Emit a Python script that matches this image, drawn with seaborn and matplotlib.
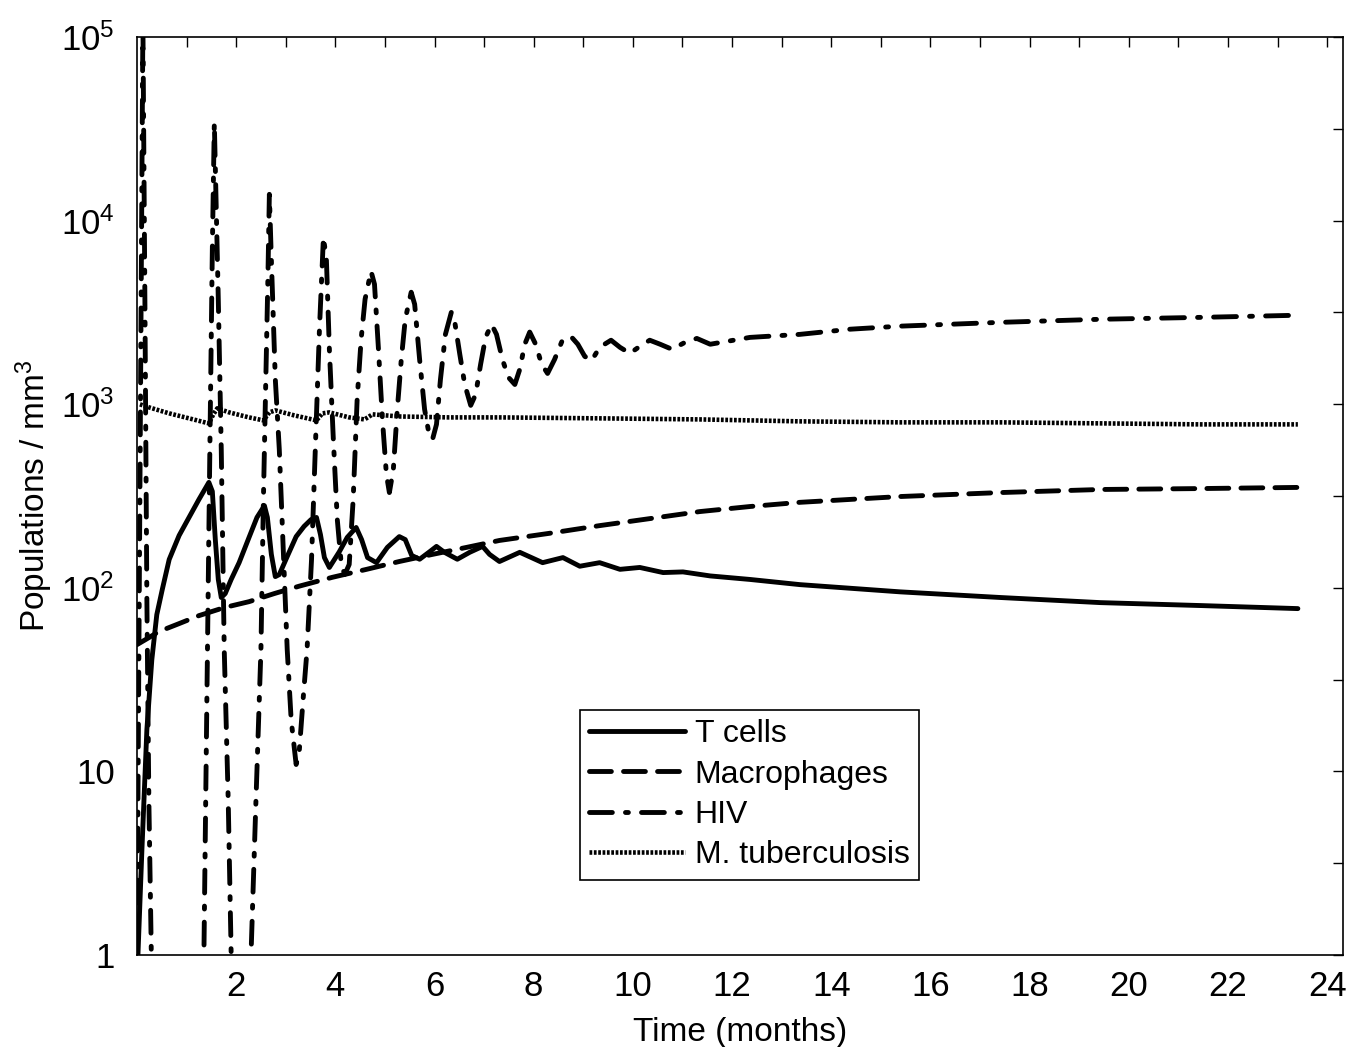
import numpy as np
import pandas as pd
import matplotlib
matplotlib.use("Agg")
import matplotlib.pyplot as plt
import seaborn as sns

# --- data (time in months, populations / mm^3) ---
hiv_time = [0.00, 0.12, 0.16, 0.20, 0.24, 0.29, 0.80,
            1.35, 1.41, 1.47, 1.52, 1.56, 1.64, 1.70, 1.76, 1.84, 1.90, 2.10,
            2.30, 2.40, 2.50, 2.55, 2.59, 2.64, 2.67,
            2.71, 2.79, 2.87, 2.95, 3.03, 3.11, 3.21,
            3.27, 3.35, 3.43, 3.52, 3.61, 3.68, 3.76,
            3.82, 3.88, 3.96, 4.04, 4.12, 4.19,
            4.28, 4.36, 4.44, 4.52, 4.60, 4.72,
            4.79, 4.87, 4.95, 5.03, 5.09,
            5.17, 5.25, 5.33, 5.41, 5.53,
            5.60, 5.70, 5.80, 5.88, 5.96,
            6.04, 6.12, 6.22, 6.34,
            6.40, 6.51, 6.61, 6.73,
            6.83, 6.93, 7.03, 7.15,
            7.25, 7.37, 7.49, 7.62,
            7.72, 7.82, 7.92,
            8.04, 8.16, 8.28,
            8.42, 8.57, 8.75,
            8.89, 9.03, 9.17,
            9.33, 9.56, 9.74, 9.94, 10.14, 10.34, 10.55, 10.79, 11.05, 11.29, 11.56,
            12.36, 13.37, 14.38, 15.39, 17.41, 19.43, 21.45, 23.41]
hiv = [1, 120000, 3730, 86, 7, 1, 0.1,
       1, 24.6, 568, 6980, 34100, 3730, 568, 46, 7, 1, 0.1,
       1, 7, 46, 303, 1060, 4790, 13900,
       6150, 1365, 568, 162, 46, 19, 10.9,
       12.6, 24.6, 46, 142, 729, 2560, 8120,
       6150, 1990, 643, 235, 134, 118,
       134, 303, 1060, 2250, 3730, 5300,
       4500, 1990, 826, 414, 330,
       441, 937, 1750, 2900, 4070,
       3500, 1750, 937, 711, 643,
       776, 1365, 2400, 3170,
       2900, 1870, 1280, 985,
       1130, 1650, 2310, 2720,
       2400, 1750, 1400, 1280,
       1550, 2120, 2470,
       2120, 1650, 1470,
       1750, 2200, 2340,
       2120, 1820, 1730,
       2040, 2230, 2040, 1890, 2065, 2230, 2120, 1990, 2170, 2280, 2120,
       2310, 2400, 2560, 2660, 2790, 2900, 2970, 3050]

tcell_time = [0.02, 0.10, 0.20, 0.30, 0.40, 0.51, 0.65, 0.85, 1.05, 1.25, 1.45,
              1.52, 1.58, 1.64, 1.70, 1.78, 1.90, 2.06, 2.26, 2.42, 2.57,
              2.63, 2.71, 2.79, 2.87, 3.03, 3.21, 3.37, 3.51, 3.62,
              3.70, 3.78, 3.88, 4.08, 4.24, 4.42,
              4.53, 4.65, 4.83, 5.05, 5.29,
              5.41, 5.54, 5.70, 5.90, 6.04,
              6.20, 6.46, 6.71, 6.97,
              7.11, 7.31, 7.72, 8.18, 8.59, 8.93, 9.33, 9.74, 10.14, 10.61, 11.01, 11.56,
              12.36, 13.37, 15.39, 17.41, 19.43, 21.45, 23.41]
tcells = [1.0, 3.74, 16.9, 40.6, 71.4, 97.7, 142.6, 192.6, 241.6, 302.8, 375,
          335, 183, 111, 88.5, 93, 111, 137, 188, 241.6, 280,
          241.6, 152, 115, 118, 148, 190, 216, 235, 241.6,
          195, 146, 129, 157, 188, 213,
          183, 146, 137, 166, 190,
          183, 150, 143, 157, 168,
          156, 143, 156, 168,
          152, 139, 156, 137, 146, 131, 137, 126, 129, 121, 122, 116,
          111, 104, 95, 88.5, 83, 80, 77]

mac_time = [0, 0.24, 0.44, 0.85, 1.25, 1.76, 2.26, 2.77, 3.27, 3.94, 4.63, 5.29, 5.96,
            6.65, 7.31, 8.32, 9.33, 10.34, 11.35, 12.36, 13.37, 15.39, 17.41, 19.43,
            21.45, 23.41]
macrophages = [49, 53.5, 57.7, 63.8, 70.5, 78, 84, 93, 102, 114, 126, 139, 152,
               166, 181, 198, 218, 238, 260, 277, 292, 314, 330, 343,
               347, 352]

mtb_time = [0.06, 0.24, 0.65, 1.05, 1.45, 1.54, 1.62, 1.86, 2.26, 2.55, 2.67, 2.79,
            3.17, 3.62, 3.74, 3.88, 4.28, 4.59, 4.75, 5.29, 6.30, 7.31, 9.33, 11.35,
            13.37, 15.39, 17.41, 19.43, 21.45, 23.41]
mtb = [998, 961, 891, 837, 786, 880, 949, 902, 847, 816, 902, 925,
       869, 816, 891, 902, 847, 826, 880, 857, 847, 847, 837, 826,
       806, 796, 796, 786, 776, 776]

x_ticks = list(range(1, 25))
x_labels = [str(v) if v % 2 == 0 else "" for v in x_ticks]
y_ticks = [1, 10, 100, 1e3, 1e4, 1e5]
y_labels = ["1", "10", r"$\mathregular{10^2}$", r"$\mathregular{10^3}$",
            r"$\mathregular{10^4}$", r"$\mathregular{10^5}$"]

sns.set_theme(style="white")
plt.rcParams["font.family"] = ["Liberation Sans", "DejaVu Sans"]
plt.rcParams["mathtext.fontset"] = "custom"
plt.rcParams["mathtext.rm"] = "Liberation Sans"
for key in ["text.color", "axes.labelcolor", "xtick.color", "ytick.color"]:
    plt.rcParams[key] = "black"

fig = plt.figure(figsize=(13.48, 10.47), dpi=100)
ax = fig.add_axes([0.1016, 0.0879, 0.8947, 0.8768])

lw = 3.5
series = [
    ("T cells", tcell_time, tcells, "-", "round", lw),
    ("Macrophages", mac_time, macrophages, (0, (4.5, 2.5)), "round", lw),
    ("HIV", hiv_time, hiv, (0, (4.7, 2.7, 0.6, 2.7)), "round", lw),
    ("M. tuberculosis", mtb_time, mtb, (0, (0.6, 0.35)), "butt", 3.3),
]
for name, tt, vv, ls, cap, width in series:
    df = pd.DataFrame({"time": tt, "value": vv})
    sns.lineplot(data=df, x="time", y="value", ax=ax, color="black",
                 linewidth=width, linestyle=ls, dash_capstyle=cap,
                 estimator=None, sort=False, label=name)

ax.set_yscale("log")
ax.set_xlim(0, 24.32)
ax.set_ylim(1, 1e5)

ax.set_xticks(x_ticks)
ax.set_xticklabels(x_labels)
ax.set_yticks(y_ticks)
ax.set_yticklabels(y_labels)
ax.set_yticks(10 ** np.arange(0.5, 5, 1), minor=True)
ax.yaxis.set_minor_formatter(matplotlib.ticker.NullFormatter())
ax.xaxis.set_minor_locator(matplotlib.ticker.NullLocator())

ax.tick_params(axis="both", which="both", direction="in", length=7, width=1,
               top=True, right=True, color="black", labelcolor="black",
               labelsize=25)
ax.tick_params(axis="y", pad=16)
ax.tick_params(axis="x", pad=11)
for sp in ax.spines.values():
    sp.set_color("black")
    sp.set_linewidth(1.2)

ax.set_xlabel("Time (months)", fontsize=24, labelpad=10, color="black")
ax.set_ylabel(r"Populations / mm$\mathregular{^3}$", fontsize=24, labelpad=4,
              color="black")

leg = ax.legend(loc="upper left", bbox_to_anchor=(0.367, 0.267), fontsize=23,
                frameon=True, fancybox=False, edgecolor="black", framealpha=1,
                handlelength=3.0, handletextpad=0.3, labelspacing=0.32,
                borderpad=0.3, borderaxespad=0)
leg.get_frame().set_linewidth(1.2)
for txt in leg.get_texts():
    txt.set_color("black")

fig.savefig("out.png", dpi=100, facecolor="white")
